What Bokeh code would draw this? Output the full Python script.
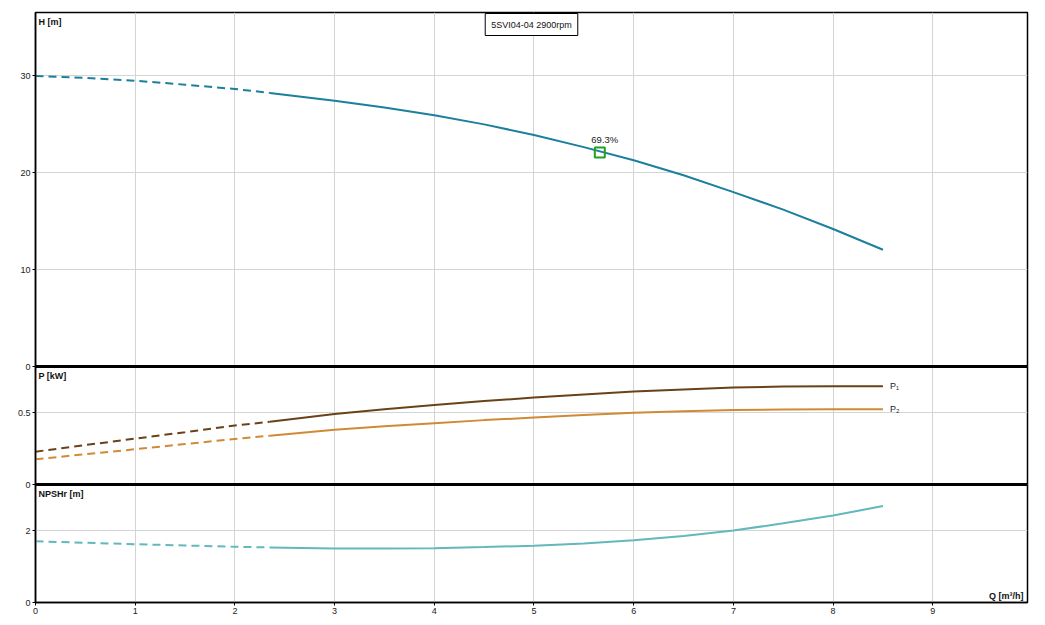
from bokeh.plotting import figure
from bokeh.models import Range1d, FixedTicker, Span, Label
from bokeh.embed import file_html
from bokeh.resources import INLINE

# ---------------- data ----------------
Q = [0, 0.5, 1, 1.5, 2, 2.35, 3, 3.5, 4, 4.5, 5, 5.5, 6, 6.5, 7, 7.5, 8, 8.5]
H = [30.0, 29.8, 29.5, 29.1, 28.65, 28.25, 27.45, 26.75, 25.95, 25.0, 23.9,
     22.65, 21.3, 19.75, 18.0, 16.2, 14.2, 12.05]
P1 = [0.229, 0.275, 0.32, 0.365, 0.412, 0.437, 0.491, 0.525, 0.555, 0.582,
      0.606, 0.628, 0.648, 0.663, 0.676, 0.683, 0.686, 0.685]
P2 = [0.176, 0.211, 0.246, 0.282, 0.318, 0.34, 0.382, 0.406, 0.428, 0.449,
      0.467, 0.484, 0.5, 0.511, 0.519, 0.523, 0.525, 0.524]
NPSH = [1.70, 1.66, 1.62, 1.585, 1.55, 1.53, 1.50, 1.50, 1.51, 1.54, 1.58,
        1.64, 1.73, 1.85, 2.0, 2.2, 2.42, 2.68]
Q_SPLIT = 2.35          # end of the dashed (extrapolated) part

EFF_Q = [5.66]
EFF_H = [22.1]
EFF_LABEL = "69.3%"

TITLE = "5SVI04-04 2900rpm"
X_TICKS = [0, 1, 2, 3, 4, 5, 6, 7, 8, 9]
H_TICKS = [0, 10, 20, 30]
P_TICKS = [0, 0.5]
N_TICKS = [0, 2]
H_LABELS = ["0", "10", "20", "30"]
P_LABELS = ["0", "0.5"]
N_LABELS = ["0", "2"]

Q_MAX = 9.95
H_MAX = 36.55
P_MAX = 0.823
N_MAX = 3.28

# ---------------- layout ----------------
H_PX, P_PX, N_PX = 354, 118, 118
TOT = H_PX + P_PX + N_PX
FONT = "Liberation Sans"

C_H = "#1b7f9e"
C_P1 = "#6a4219"
C_P2 = "#d08a35"
C_N = "#62b8bc"
C_EFF = "#22a022"

p = figure(width=1037, height=620, output_backend="svg", toolbar_location=None,
           x_range=Range1d(0, Q_MAX), y_range=Range1d(0, TOT),
           min_border_left=35, min_border_right=10, min_border_top=12,
           min_border_bottom=18)

# panel scales (each panel occupies a band of the frame)
sH = H_PX / H_MAX
sP = P_PX / P_MAX
sN = N_PX / N_MAX
p.extra_y_ranges = {
    "H": Range1d(-(P_PX + N_PX) / sH, H_MAX),
    "P": Range1d(-N_PX / sP, P_MAX + H_PX / sP),
    "N": Range1d(0, TOT / sN),
}

# y ticks for all three panels on one left axis
ticks, labels = [], {}
for v, s in zip(H_TICKS, H_LABELS):
    t = P_PX + N_PX + v * sH
    ticks.append(t); labels[t] = s
for v, s in zip(P_TICKS, P_LABELS):
    t = N_PX + v * sP
    ticks.append(t); labels[t] = s
for v, s in zip(N_TICKS, N_LABELS):
    t = v * sN
    ticks.append(t); labels[t] = s

p.yaxis.ticker = FixedTicker(ticks=ticks)
p.yaxis.major_label_overrides = labels
p.xaxis.ticker = FixedTicker(ticks=X_TICKS)

for ax in (p.xaxis[0], p.yaxis[0]):
    ax.major_label_text_font = FONT
    ax.major_label_text_font_size = "9px"
    ax.major_label_text_color = "#222222"
    ax.major_tick_out = 3
    ax.major_tick_in = 0
    ax.minor_tick_out = 0
    ax.minor_tick_in = 0
    ax.major_label_standoff = 2
    ax.axis_line_color = "black"
    ax.axis_line_width = 1.5
    ax.major_tick_line_color = "black"

p.xgrid.grid_line_color = "#d4d4d4"
p.ygrid.grid_line_color = "#d4d4d4"
p.xgrid.ticker = FixedTicker(ticks=X_TICKS)
p.ygrid.ticker = FixedTicker(ticks=ticks)
p.outline_line_color = "black"
p.outline_line_width = 1.5
p.background_fill_color = "white"
p.border_fill_color = "white"

# panel separators
for loc in (N_PX, N_PX + P_PX):
    p.add_layout(Span(location=loc, dimension="width", line_color="black",
                      line_width=3))

# ---------------- curves ----------------
def split(vals):
    dq = [q for q in Q if q <= Q_SPLIT]
    dv = [v for q, v in zip(Q, vals) if q <= Q_SPLIT]
    sq = [q for q in Q if q >= Q_SPLIT]
    sv = [v for q, v in zip(Q, vals) if q >= Q_SPLIT]
    return dq, dv, sq, sv

for vals, rng, col in ((H, "H", C_H), (P1, "P", C_P1), (P2, "P", C_P2),
                       (NPSH, "N", C_N)):
    dq, dv, sq, sv = split(vals)
    p.line(dq, dv, y_range_name=rng, line_color=col, line_width=2,
           line_dash="8 5")
    p.line(sq, sv, y_range_name=rng, line_color=col, line_width=2)

# efficiency marker
p.scatter(EFF_Q, EFF_H, y_range_name="H", marker="square", size=10,
          fill_color=None, line_color=C_EFF, line_width=2)
p.add_layout(Label(x=EFF_Q[0], y=EFF_H[0], y_range_name="H", text=EFF_LABEL,
                   x_offset=5, y_offset=7, text_align="center",
                   text_baseline="bottom", text_font=FONT,
                   text_font_size="9.5px", text_color="#222222"))

# P1 / P2 end labels
p.add_layout(Label(x=Q[-1], y=P1[-1], y_range_name="P", text="P\u2081",
                   x_offset=7, text_baseline="middle", text_font=FONT,
                   text_font_size="9px", text_color="#222222"))
p.add_layout(Label(x=Q[-1], y=P2[-1], y_range_name="P", text="P\u2082",
                   x_offset=7, text_baseline="middle", text_font=FONT,
                   text_font_size="9px", text_color="#222222"))

# panel titles
for txt, y in (("H [m]", TOT), ("P [kW]", N_PX + P_PX), ("NPSHr [m]", N_PX)):
    p.add_layout(Label(x=0, y=y, text=txt, x_offset=3, y_offset=-4,
                       text_baseline="top", text_font=FONT,
                       text_font_size="9px", text_font_style="bold",
                       text_color="#111111"))

p.add_layout(Label(x=Q_MAX, y=0, text="Q [m\u00b3/h]", x_offset=-4,
                   y_offset=2, text_align="right", text_baseline="bottom",
                   text_font=FONT, text_font_size="9px",
                   text_font_style="bold", text_color="#111111"))

# title box
p.add_layout(Label(x=Q_MAX / 2, y=TOT, text=TITLE, y_offset=-1,
                   text_align="center", text_baseline="top", text_font=FONT,
                   text_font_size="9px", text_color="#111111",
                   background_fill_color="white", border_line_color="black",
                   border_line_width=1, padding=6))

open("out.html", "w").write(file_html(p, INLINE))
